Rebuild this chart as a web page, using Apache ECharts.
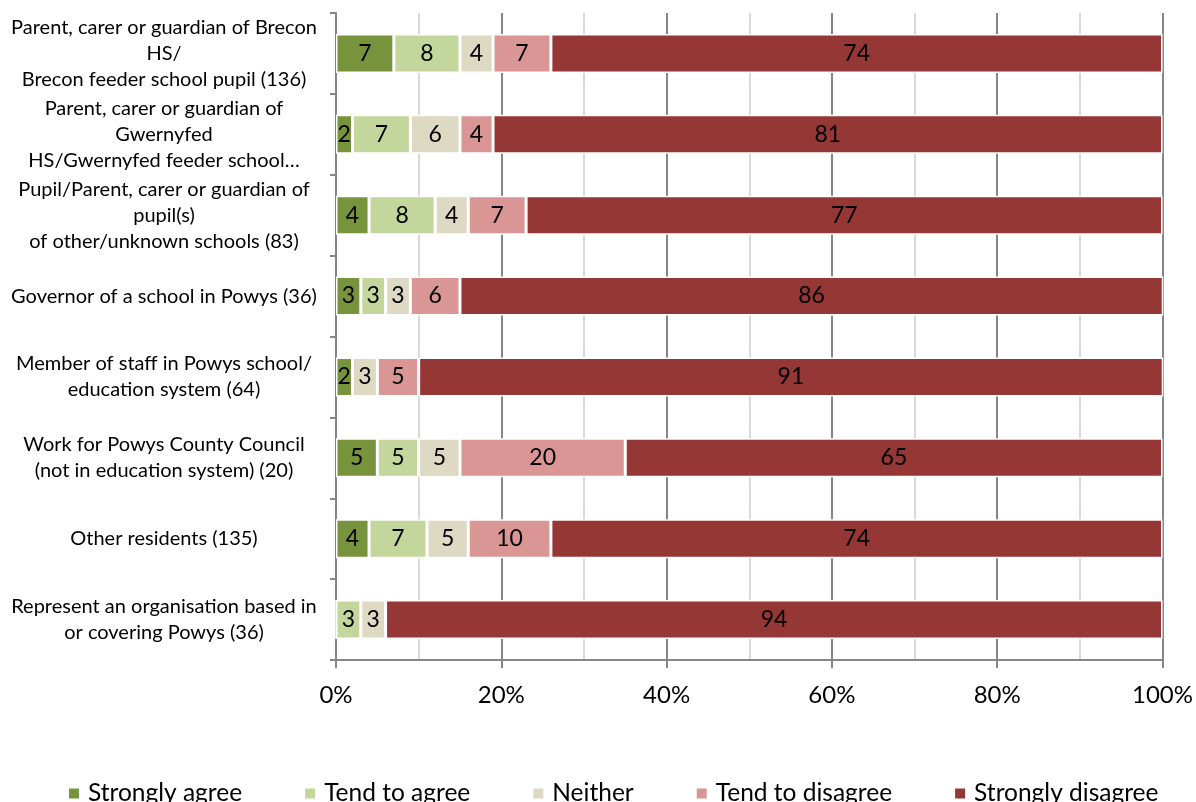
<!DOCTYPE html>
<html>
<head>
<meta charset="utf-8">
<script src="https://cdn.jsdelivr.net/npm/echarts@6/dist/echarts.min.js"></script>
<style>
  html, body { margin: 0; padding: 0; background: #fff; }
  #chart { width: 1196px; height: 802px; }
</style>
</head>
<body>
<div id="chart"></div>
<script>
// Respondent groups (top to bottom)
const categories = [
  'Parent, carer or guardian of Brecon\nHS/\nBrecon feeder school pupil (136)',
  'Parent, carer or guardian of\nGwernyfed\nHS/Gwernyfed feeder school…',
  'Pupil/Parent, carer or guardian of\npupil(s)\nof other/unknown schools (83)',
  'Governor of a school in Powys (36)',
  'Member of staff in Powys school/\neducation system (64)',
  'Work for Powys County Council\n(not in education system) (20)',
  'Other residents (135)',
  'Represent an organisation based in\nor covering Powys (36)'
];

// Percentage of responses in each group
const stronglyAgree    = [7, 2, 4, 3, 2, 5, 4, 0];
const tendToAgree      = [8, 7, 8, 3, 0, 5, 7, 3];
const neither          = [4, 6, 4, 3, 3, 5, 5, 3];
const tendToDisagree   = [7, 4, 7, 6, 5, 20, 10, 0];
const stronglyDisagree = [74, 81, 77, 86, 91, 65, 74, 94];

const xTicks = [0, 20, 40, 60, 80, 100];

const seriesNames = ['Strongly agree', 'Tend to agree', 'Neither', 'Tend to disagree', 'Strongly disagree'];
const seriesData = [stronglyAgree, tendToAgree, neither, tendToDisagree, stronglyDisagree];
const colors = ['#77933C', '#C3D69B', '#DDD9C3', '#D99694', '#953735'];

const FONT = 'Lato, "Open Sans", sans-serif';

const chart = echarts.init(document.getElementById('chart'), null, { renderer: 'canvas' });

chart.setOption({
  animation: false,
  color: colors,
  textStyle: { fontFamily: FONT, color: '#000' },
  grid: { left: 336, right: 30, top: 13, bottom: 142, containLabel: false },
  legend: {
    data: seriesNames,
    left: 62,
    top: 776,
    icon: 'rect',
    itemWidth: 12,
    itemHeight: 12,
    itemGap: 61,
    textStyle: { fontFamily: FONT, fontSize: 24.5, color: '#000', padding: [0, 0, 0, 3] }
  },
  xAxis: {
    type: 'value',
    min: xTicks[0],
    max: xTicks[xTicks.length - 1],
    interval: 20,
    axisLine: { show: true, lineStyle: { color: '#868686', width: 2 } },
    axisTick: { show: true, length: 8, lineStyle: { color: '#868686', width: 2 } },
    axisLabel: { formatter: '{value}%', fontSize: 24, color: '#000', margin: 23, fontFamily: FONT },
    splitLine: { show: true, lineStyle: { color: '#868686', width: 2 } },
    minorTick: { show: false, splitNumber: 2 },
    minorSplitLine: { show: true, lineStyle: { color: '#D9D9D9', width: 2 } }
  },
  yAxis: {
    type: 'category',
    inverse: true,
    data: categories,
    axisLine: { show: true, lineStyle: { color: '#868686', width: 2 } },
    axisTick: { show: true, length: 6, lineStyle: { color: '#868686', width: 2 } },
    axisLabel: {
      fontSize: 20,
      lineHeight: 26,
      color: '#000',
      align: 'center',
      margin: 172,
      fontFamily: FONT
    },
    splitLine: { show: false }
  },
  series: seriesNames.map((name, i) => ({
    name: name,
    type: 'bar',
    stack: 'total',
    barWidth: 39,
    data: seriesData[i],
    itemStyle: { color: colors[i], borderColor: '#FFFFFF', borderWidth: 1.5 },
    label: {
      show: true,
      position: 'inside',
      color: '#000',
      fontSize: 23,
      fontFamily: FONT,
      formatter: p => (p.value ? String(p.value) : '')
    }
  }))
});
</script>
</body>
</html>
